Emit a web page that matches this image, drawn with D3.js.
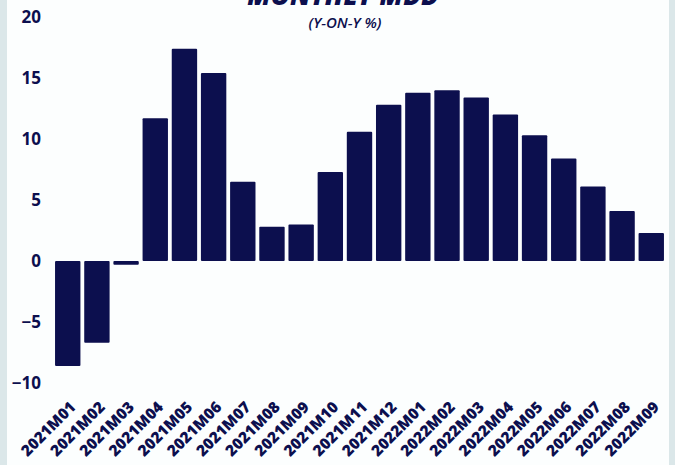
<!DOCTYPE html>
<html>
<head>
<meta charset="utf-8">
<title>Monthly MDD</title>
<style>
body { margin: 0; background: #ffffff; }
svg { display: block; }
</style>
<script src="https://d3js.org/d3.v7.min.js"></script>
</head>
<body>
<svg id="chart"></svg>
<script>
// values (y-on-y %)
const months = ["2021M01", "2021M02", "2021M03", "2021M04", "2021M05", "2021M06", "2021M07",
                "2021M08", "2021M09", "2021M10", "2021M11", "2021M12", "2022M01", "2022M02",
                "2022M03", "2022M04", "2022M05", "2022M06", "2022M07", "2022M08", "2022M09"];
const mdd = [-8.6, -6.7, -0.3, 11.7, 17.4, 15.4, 6.5, 2.8, 3.0, 7.3, 10.6,
             12.8, 13.8, 14.0, 13.4, 12.0, 10.3, 8.4, 6.1, 4.1, 2.3];
const yTicks = [-10, -5, 0, 5, 10, 15, 20];

const W = 675, H = 465;
const NAVY = "#0c0f4e";

const svg = d3.select("#chart").attr("width", W).attr("height", H);

svg.append("rect").attr("width", W).attr("height", H).attr("fill", "#fcfefe");
// pale frame strips on the sides
svg.append("rect").attr("x", 0).attr("y", 0).attr("width", 7).attr("height", H).attr("fill", "#dbe7e9");
svg.append("rect").attr("x", 669).attr("y", 0).attr("width", 6).attr("height", H).attr("fill", "#dbe7e9");

const x = d3.scaleBand()
    .domain(months)
    .range([53, 666])
    .paddingInner(0.13)
    .paddingOuter(0.07);

const y = d3.scaleLinear().domain([-10, 20]).range([383, 17]);

svg.selectAll("rect.bar")
    .data(mdd)
    .enter()
    .append("rect")
    .classed("bar", true)
    .attr("x", (d, i) => x(months[i]))
    .attr("width", x.bandwidth())
    .attr("y", d => y(Math.max(0, d)))
    .attr("height", d => Math.abs(y(d) - y(0)))
    .attr("rx", 1)
    .attr("fill", NAVY);

// y axis labels, no line
const yAxis = svg.append("g")
    .attr("transform", "translate(41,0)")
    .call(d3.axisLeft(y).tickValues(yTicks).tickSize(0).tickPadding(0));
yAxis.select(".domain").remove();
yAxis.selectAll("text")
    .attr("fill", NAVY)
    .style("font-family", "'Open Sans', sans-serif")
    .style("font-weight", "bold")
    .style("font-size", "17px");

// x labels rotated
svg.append("g")
    .selectAll("text")
    .data(months)
    .enter()
    .append("text")
    .attr("transform", d => `translate(${x(d) + x.bandwidth() / 2 + 9},408) rotate(-45)`)
    .attr("text-anchor", "end")
    .attr("fill", NAVY)
    .style("font-family", "'Open Sans', sans-serif")
    .style("font-weight", "800")
    .style("font-size", "15.5px")
    .text(d => d);

// title, clipped at the top edge as in the source image
svg.append("text")
    .attr("x", 343).attr("y", 5)
    .attr("text-anchor", "middle")
    .attr("fill", NAVY)
    .style("font-family", "'Open Sans', sans-serif")
    .style("font-weight", "800")
    .style("font-style", "italic")
    .style("font-size", "26px")
    .text("MONTHLY MDD");

svg.append("text")
    .attr("x", 345).attr("y", 28)
    .attr("text-anchor", "middle")
    .attr("fill", NAVY)
    .style("font-family", "'Open Sans', sans-serif")
    .style("font-weight", "600")
    .style("font-style", "italic")
    .style("font-size", "15px")
    .text("(Y-ON-Y %)");
</script>
</body>
</html>
